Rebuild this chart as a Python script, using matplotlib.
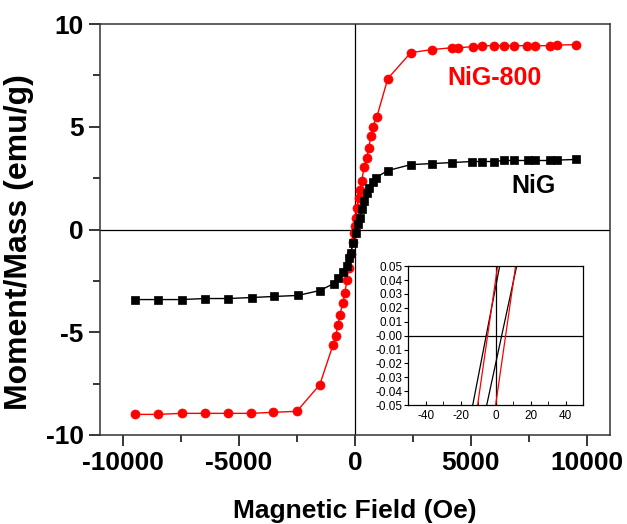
import matplotlib
matplotlib.use('Agg')
import matplotlib.pyplot as plt
from matplotlib.ticker import MultipleLocator, FormatStrFormatter

plt.rcParams['font.family'] = ['Liberation Sans', 'DejaVu Sans']
plt.rcParams['axes.unicode_minus'] = False

# NiG (black squares): field in Oe, moment in emu/g
nig_field = [-9480, -8490, -7460, -6470, -5470, -4440, -3490, -2460, -1510,
             -905, -733, -517, -345, -259, -172, -86, 43, 129, 216, 302, 388,
             517, 603, 776, 905, 1422, 2414, 3319, 4181, 5040, 5470, 5990,
             6420, 6850, 7460, 7760, 8400, 8710, 9530]
nig_moment = [-3.41, -3.41, -3.41, -3.36, -3.36, -3.31, -3.26, -3.21, -2.97,
              -2.63, -2.34, -2.09, -1.80, -1.41, -1.12, -0.68, -0.19, 0.29,
              0.58, 1.02, 1.41, 1.80, 2.04, 2.29, 2.53, 2.87, 3.16, 3.21,
              3.26, 3.31, 3.31, 3.31, 3.36, 3.36, 3.36, 3.36, 3.36, 3.38, 3.41]

# NiG-800 (red circles)
nig800_field = [-9480, -8490, -7460, -6470, -5470, -4480, -3530, -2500, -1510,
                -950, -820, -730, -650, -520, -430, -345, -260, -170, -90, -40,
                0, 45, 90, 170, 215, 300, 390, 520, 600, 690, 775, 950, 1420,
                2410, 3320, 4180, 4440, 5090, 5470, 5990, 6420, 6850, 7410,
                7760, 8400, 8710, 9530]
nig800_moment = [-9.00, -9.00, -8.95, -8.95, -8.95, -8.95, -8.90, -8.85, -7.55,
                 -5.64, -5.16, -4.67, -4.14, -3.60, -3.07, -2.48, -1.85, -1.17,
                 -0.63, -0.19, 0.19, 0.58, 1.07, 1.51, 1.90, 2.38, 3.02, 3.50,
                 3.99, 4.53, 5.01, 5.50, 7.35, 8.61, 8.76, 8.85, 8.85, 8.90,
                 8.95, 8.95, 8.95, 8.95, 8.95, 8.95, 8.95, 8.98, 9.00]

# low-field loop branches for the inset (Oe, emu/g)
nig_loop_up_f = [-13.1, 2.3]
nig_loop_dn_f = [-5.1, 12.0]
nig800_loop_up_f = [-10.3, 1.1]
nig800_loop_dn_f = [0.0, 11.4]
loop_m = [-0.05, 0.05]

fig = plt.figure(figsize=(6.27, 5.24), dpi=100)
ax = fig.add_axes([0.159, 0.170, 0.814, 0.784])

ax.axhline(0, color='black', lw=0.9, zorder=1)
ax.axvline(0, color='black', lw=0.9, zorder=1)
ax.plot(nig_field, nig_moment, color='black', marker='s', markersize=6,
        markeredgewidth=0.5, lw=1, zorder=3)
ax.plot(nig800_field, nig800_moment, color='red', marker='o', markersize=6.5,
        markeredgewidth=0.5, lw=1, zorder=2)

ax.set_xlim(-11000, 11000)
ax.set_ylim(-10, 10)
ax.xaxis.set_major_locator(MultipleLocator(5000))
ax.xaxis.set_minor_locator(MultipleLocator(2500))
ax.yaxis.set_major_locator(MultipleLocator(5))
ax.yaxis.set_minor_locator(MultipleLocator(2.5))
ax.tick_params(which='major', direction='out', length=8, width=1.1,
               labelsize=19, top=False, right=False)
ax.tick_params(which='minor', direction='out', length=5, width=1.1,
               top=False, right=False)
for lab in ax.get_xticklabels() + ax.get_yticklabels():
    lab.set_fontweight('bold')
for s in ax.spines.values():
    s.set_linewidth(1.1)
    s.set_color('#333333')

ax.set_xlabel('Magnetic Field (Oe)', fontsize=19, fontweight='bold', labelpad=17)
ax.set_ylabel('Moment/Mass (emu/g)', fontsize=23, fontweight='bold')
ax.yaxis.set_label_coords(-0.128, 0.47)

ax.text(6000, 7.4, 'NiG-800', color='red', fontsize=18, fontweight='bold',
        ha='center', va='center')
ax.text(7700, 2.1, 'NiG', color='black', fontsize=18, fontweight='bold',
        ha='center', va='center')

# inset: zoom on the coercive region
ins = fig.add_axes([0.651, 0.227, 0.279, 0.265])
ins.axhline(0, color='black', lw=0.9)
ins.axvline(0, color='black', lw=0.9)
ins.plot(nig_loop_up_f, loop_m, color='black', lw=0.9)
ins.plot(nig_loop_dn_f, loop_m, color='black', lw=0.9)
ins.plot(nig800_loop_up_f, loop_m, color='red', lw=0.9)
ins.plot(nig800_loop_dn_f, loop_m, color='red', lw=0.9)
ins.set_xlim(-50, 50)
ins.set_ylim(-0.05, 0.05)
ins.xaxis.set_major_locator(MultipleLocator(20))
ins.xaxis.set_minor_locator(MultipleLocator(10))
ins.yaxis.set_major_locator(MultipleLocator(0.01))
ins.yaxis.set_major_formatter(FormatStrFormatter('%.2f'))
ins.tick_params(axis='x', which='both', direction='in', length=3, labelsize=8.5,
                top=False)
ins.tick_params(axis='y', which='both', direction='out', length=3, labelsize=8.5,
                right=False, pad=1)
for s in ins.spines.values():
    s.set_linewidth(0.9)

fig.savefig('out.png', dpi=100)
